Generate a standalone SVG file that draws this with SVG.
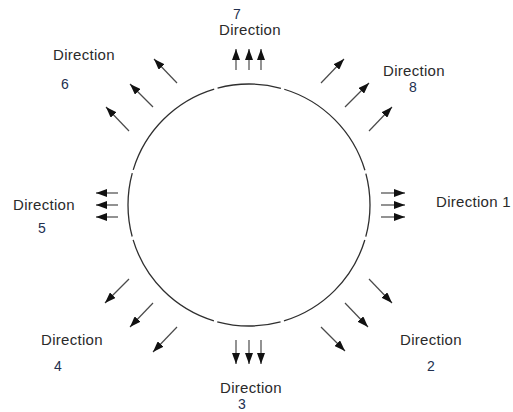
<svg xmlns="http://www.w3.org/2000/svg" width="513" height="412" viewBox="0 0 513 412">
  <style>
    .lbl { font-family: "Liberation Sans", Arial, sans-serif; font-size: 15px; fill: #2a2a2a; letter-spacing: 0.3px; }
    .num { font-family: "Liberation Sans", Arial, sans-serif; font-size: 14px; fill: #22304f; }
    .arr { stroke: #4a4a4a; stroke-width: 1.2; fill: none; marker-end: url(#head); }
    .ring { fill: none; stroke: #2f2f2f; stroke-width: 1.3; stroke-dasharray: 64.08 3.5 118.99 3.5; stroke-dashoffset: 32.04; }
  </style>
  <defs>
    <marker id="head" markerUnits="userSpaceOnUse" markerWidth="11" markerHeight="8" refX="11" refY="4" orient="auto">
      <path d="M0,0 L11,4 L0,8 z" fill="#111"/>
    </marker>
  </defs>
  <rect width="513" height="412" fill="#fff"/>

  <g id="circle">
    <circle class="ring" cx="249" cy="205" r="121"/>
  </g>

  <g id="connectors">
    <!-- Direction 7 (up) -->
    <line class="arr" x1="236" y1="70" x2="236" y2="49"/>
    <line class="arr" x1="249" y1="70" x2="249" y2="49"/>
    <line class="arr" x1="261" y1="70" x2="261" y2="49"/>
    <!-- Direction 3 (down) -->
    <line class="arr" x1="236" y1="340" x2="236" y2="364"/>
    <line class="arr" x1="249" y1="340" x2="249" y2="364"/>
    <line class="arr" x1="261" y1="340" x2="261" y2="364"/>
    <!-- Direction 1 (right) -->
    <line class="arr" x1="381" y1="193" x2="405" y2="193"/>
    <line class="arr" x1="381" y1="205" x2="405" y2="205"/>
    <line class="arr" x1="381" y1="217" x2="405" y2="217"/>
    <!-- Direction 5 (left) -->
    <line class="arr" x1="118" y1="193" x2="96" y2="193"/>
    <line class="arr" x1="118" y1="205" x2="96" y2="205"/>
    <line class="arr" x1="118" y1="217" x2="96" y2="217"/>
    <!-- Direction 8 (up-right) -->
    <line class="arr" x1="321" y1="83" x2="344" y2="59"/>
    <line class="arr" x1="345" y1="107" x2="369" y2="83"/>
    <line class="arr" x1="369" y1="131" x2="392" y2="107"/>
    <!-- Direction 6 (up-left) -->
    <line class="arr" x1="177" y1="83" x2="154" y2="59"/>
    <line class="arr" x1="153" y1="107" x2="130" y2="84"/>
    <line class="arr" x1="129" y1="131" x2="106" y2="107"/>
    <!-- Direction 2 (down-right) -->
    <line class="arr" x1="369" y1="279" x2="392" y2="303"/>
    <line class="arr" x1="345" y1="303" x2="368" y2="327"/>
    <line class="arr" x1="321" y1="327" x2="345" y2="351"/>
    <!-- Direction 4 (down-left) -->
    <line class="arr" x1="129" y1="279" x2="105" y2="303"/>
    <line class="arr" x1="153" y1="303" x2="130" y2="327"/>
    <line class="arr" x1="177" y1="327" x2="153" y2="352"/>
  </g>

  <g id="dir7">
    <text class="num" x="233" y="19">7</text>
    <text class="lbl" x="219" y="35">Direction</text>
  </g>
  <g id="dir6">
    <text class="lbl" x="53" y="60">Direction</text>
    <text class="num" x="61" y="89">6</text>
  </g>
  <g id="dir8">
    <text class="lbl" x="383" y="76">Direction</text>
    <text class="num" x="409" y="92">8</text>
  </g>
  <g id="dir5">
    <text class="lbl" x="13" y="210">Direction</text>
    <text class="num" x="38" y="233">5</text>
  </g>
  <g id="dir1">
    <text class="lbl" x="436" y="207">Direction 1</text>
  </g>
  <g id="dir4">
    <text class="lbl" x="41" y="345">Direction</text>
    <text class="num" x="54" y="371">4</text>
  </g>
  <g id="dir2">
    <text class="lbl" x="400" y="345">Direction</text>
    <text class="num" x="427" y="371">2</text>
  </g>
  <g id="dir3">
    <text class="lbl" x="220" y="393">Direction</text>
    <text class="num" x="238" y="409">3</text>
  </g>
</svg>
